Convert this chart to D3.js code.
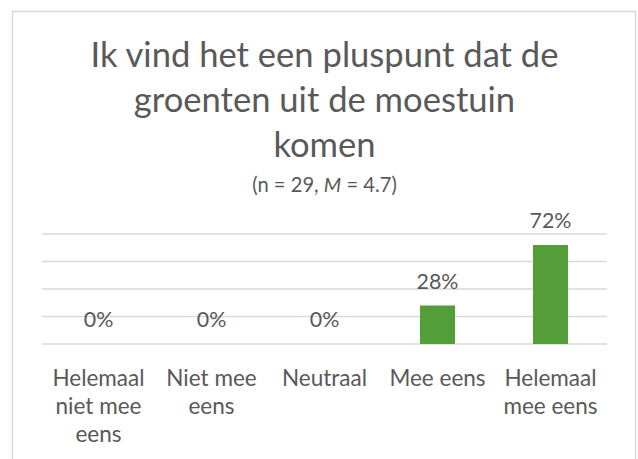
<!DOCTYPE html>
<html>
<head>
<meta charset="utf-8">
<script src="https://cdn.jsdelivr.net/npm/d3@7"></script>
<style>
  html, body { margin: 0; padding: 0; background: #ffffff; }
  svg { display: block; }
  text { font-family: Lato, "Open Sans", "Liberation Sans", sans-serif; fill: #595959; }
</style>
</head>
<body>
<svg id="chart" width="638" height="459"></svg>
<script>
// ---- data ----
const categories = ["Helemaal niet mee eens", "Niet mee eens", "Neutraal", "Mee eens", "Helemaal mee eens"];
const values = [0, 0, 0, 0.28, 0.72];
const valueLabels = ["0%", "0%", "0%", "28%", "72%"];
const gridTicks = [0, 0.2, 0.4, 0.6, 0.8];
const titleLines = ["Ik vind het een pluspunt dat de", "groenten uit de moestuin", "komen"];
const subtitleParts = [["(n = 29, ", "normal"], ["M", "italic"], [" = 4.7)", "normal"]];

// ---- layout ----
const plot = { left: 42, right: 607, top: 234, bottom: 344 };
const svg = d3.select("#chart");

// size a font so that a sample string has a given width
function fitSize(sample, targetW, base, weight) {
  const t = svg.append("text").attr("font-size", base).attr("font-weight", weight || 400).text(sample);
  const w = t.node().getComputedTextLength();
  t.remove();
  return base * targetW / w;
}
const titleFS = fitSize(titleLines[0], 468, 33);
const catFS = fitSize("niet mee", 86, 18);
const valFS = fitSize("28%", 42, 18);
const subFS = fitSize("(n = 29, M = 4.7)", 146, 18);

// chart border
svg.append("rect")
  .attr("x", 12.5).attr("y", 11.5)
  .attr("width", 623).attr("height", 470)
  .attr("fill", "#ffffff")
  .attr("stroke", "#d9d9d9").attr("stroke-width", 1.5);

const x = d3.scaleBand().domain(categories).range([plot.left, plot.right]).paddingInner(0.69).paddingOuter(0.345);
const y = d3.scaleLinear().domain([0, 0.8]).range([plot.bottom, plot.top]);

// gridlines
svg.append("g").selectAll("line").data(gridTicks).join("line")
  .attr("x1", plot.left).attr("x2", plot.right)
  .attr("y1", d => y(d)).attr("y2", d => y(d))
  .attr("stroke", "#d9d9d9").attr("stroke-width", 1.5);

// bars
svg.append("g").selectAll("rect").data(categories).join("rect")
  .attr("x", d => x(d))
  .attr("width", x.bandwidth())
  .attr("y", (d, i) => y(values[i]))
  .attr("height", (d, i) => y(0) - y(values[i]))
  .attr("fill", "#549e39");

// value labels
svg.append("g").selectAll("text").data(categories).join("text")
  .attr("x", d => x(d) + x.bandwidth() / 2)
  .attr("y", (d, i) => y(values[i]) - 17)
  .attr("text-anchor", "middle")
  .attr("font-size", valFS)
  .text((d, i) => valueLabels[i]);

// title
const titleBase = [67, 112, 157];
svg.append("g").selectAll("text").data(titleLines).join("text")
  .attr("x", 324.5)
  .attr("y", (d, i) => titleBase[i])
  .attr("text-anchor", "middle")
  .attr("font-size", titleFS)
  .text(d => d);

// subtitle
const sub = svg.append("text")
  .attr("x", 324.5).attr("y", 192)
  .attr("text-anchor", "middle")
  .attr("font-size", subFS);
sub.selectAll("tspan").data(subtitleParts).join("tspan")
  .attr("font-style", d => d[1])
  .text(d => d[0]);

// category axis labels (wrapped)
const axisG = svg.append("g");
const maxW = x.step() * 0.9;
categories.forEach(cat => {
  const t = axisG.append("text")
    .attr("x", x(cat) + x.bandwidth() / 2)
    .attr("y", 386)
    .attr("text-anchor", "middle")
    .attr("font-size", catFS);
  const words = cat.split(" ");
  let lines = [], line = [];
  const probe = t.append("tspan");
  words.forEach(w => {
    const trial = line.concat([w]).join(" ");
    probe.text(trial);
    if (probe.node().getComputedTextLength() > maxW && line.length) {
      lines.push(line.join(" "));
      line = [w];
    } else {
      line.push(w);
    }
  });
  lines.push(line.join(" "));
  probe.remove();
  lines.forEach((l, i) => {
    t.append("tspan")
      .attr("x", x(cat) + x.bandwidth() / 2)
      .attr("dy", i === 0 ? 0 : 28)
      .text(l);
  });
});
</script>
</body>
</html>
